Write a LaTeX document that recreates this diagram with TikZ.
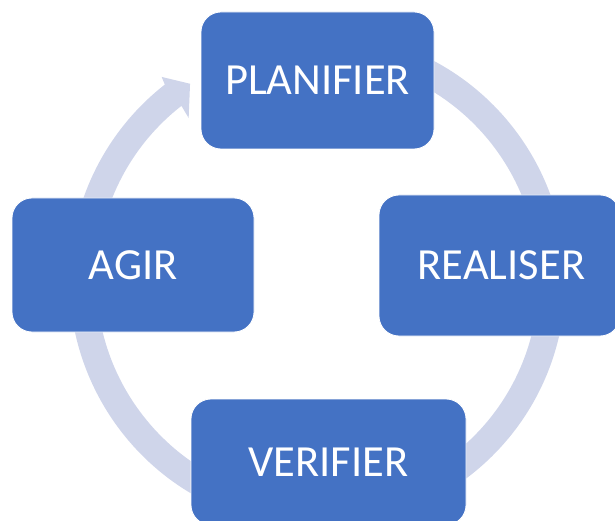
\documentclass[tikz,border=0pt]{standalone}
\usepackage{fontspec}
\setmainfont{Carlito}
\usetikzlibrary{calc}
\definecolor{boxblue}{HTML}{4472C4}
\definecolor{ringcol}{HTML}{CFD5EA}
\tikzset{
  stagebox/.style={rectangle, rounded corners=20pt, fill=boxblue, draw=white, line width=0.8pt,
    text=white, font=\fontsize{44.5}{52}\selectfont, inner sep=0pt, anchor=center},
  ringfill/.style={fill=ringcol, draw=none}
}
\begin{document}
\begin{tikzpicture}[x=1pt,y=1pt]
\useasboundingbox (0,0) rectangle (615,520);
\coordinate (C) at (317.5,240);
% circular arrow
\path[ringfill] ($(C)+(80:248)$) arc[start angle=80, end angle=-232, radius=248]
  -- ($(C)+(127.5:256)$) -- ($(C)+(123:234)$) -- ($(C)+(128.5:207)$)
  -- ($(C)+(128:221)$) arc[start angle=-232, end angle=80, radius=221] -- cycle;
% boxes
\node[stagebox, minimum width=233pt, minimum height=137pt] (plan) at (317.5,439.5) {PLANIFIER};
\node[stagebox, minimum width=241pt, minimum height=141pt] (real) at (499.5,254.5) {\hspace{4pt}REALISER};
\node[stagebox, minimum width=242pt, minimum height=134pt] (agir) at (133,255) {AGIR};
\node[stagebox, minimum width=275pt, minimum height=126pt] (verif) at (328.5,58) {VERIFIER};
\end{tikzpicture}
\end{document}
